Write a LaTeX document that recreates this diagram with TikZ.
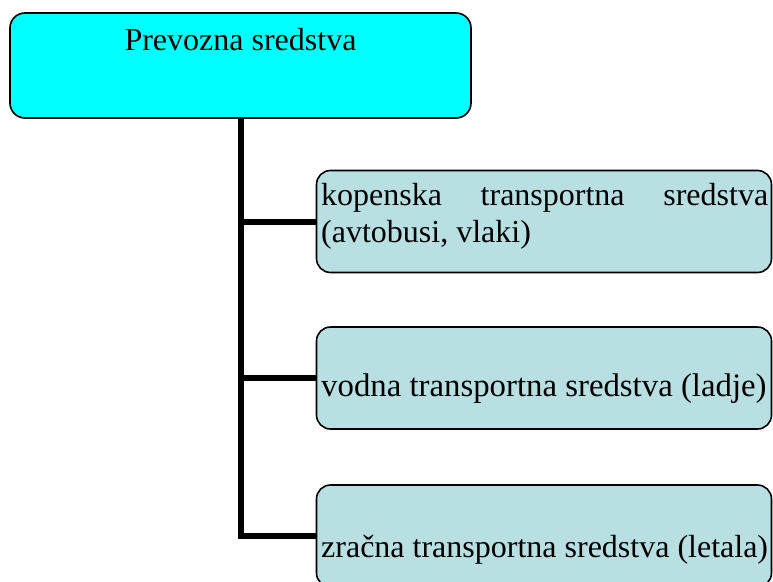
\documentclass[tikz,border=0pt]{standalone}
\usepackage{fontspec}
\setmainfont{Liberation Serif}
\definecolor{boxblue}{HTML}{B8DFE2}
\definecolor{topcyan}{HTML}{00FFFF}
\begin{document}
\begin{tikzpicture}[x=1pt,y=-1pt,
  topbox/.style={draw=black, line width=1.6pt, fill=topcyan, rounded corners=15pt, minimum width=461pt, minimum height=105pt, inner sep=0pt},
  childbox/.style={draw=black, line width=1.6pt, fill=boxblue, rounded corners=14pt, minimum width=455pt, minimum height=102pt, inner sep=0pt},
  conn/.style={line width=6pt},
  lbl/.style={font=\fontsize{32}{37}\selectfont, inner sep=0pt, anchor=base west}]
\useasboundingbox (0,0) rectangle (773,581);
% boxes
\node[topbox] (top) at (240.5,65.5) {};
\node[childbox] (c1) at (544,221.5) {};
\node[childbox] (c2) at (544,378) {};
\node[childbox] (c3) at (544,536) {};
% connectors
\draw[conn] (top.south) |- (c3.west);
\draw[conn] (c1.west) -- (c1.west -| top.south);
\draw[conn] (c2.west) -- (c2.west -| top.south);
% texts
\node[lbl, anchor=base] (t0) at (240.5,50) {Prevozna sredstva};
\node[lbl] (t1a) at (321,205) {\hbox to 447pt{kopenska\hfill transportna\hfill sredstva}};
\node[lbl] (t1b) at (321,242) {(avtobusi, vlaki)};
\node[lbl] (t2) at (321,396) {\fontsize{32.8}{38}\selectfont vodna transportna sredstva (ladje)};
\node[lbl] (t3) at (321,557) {zračna transportna sredstva (letala)};
\end{tikzpicture}
\end{document}
